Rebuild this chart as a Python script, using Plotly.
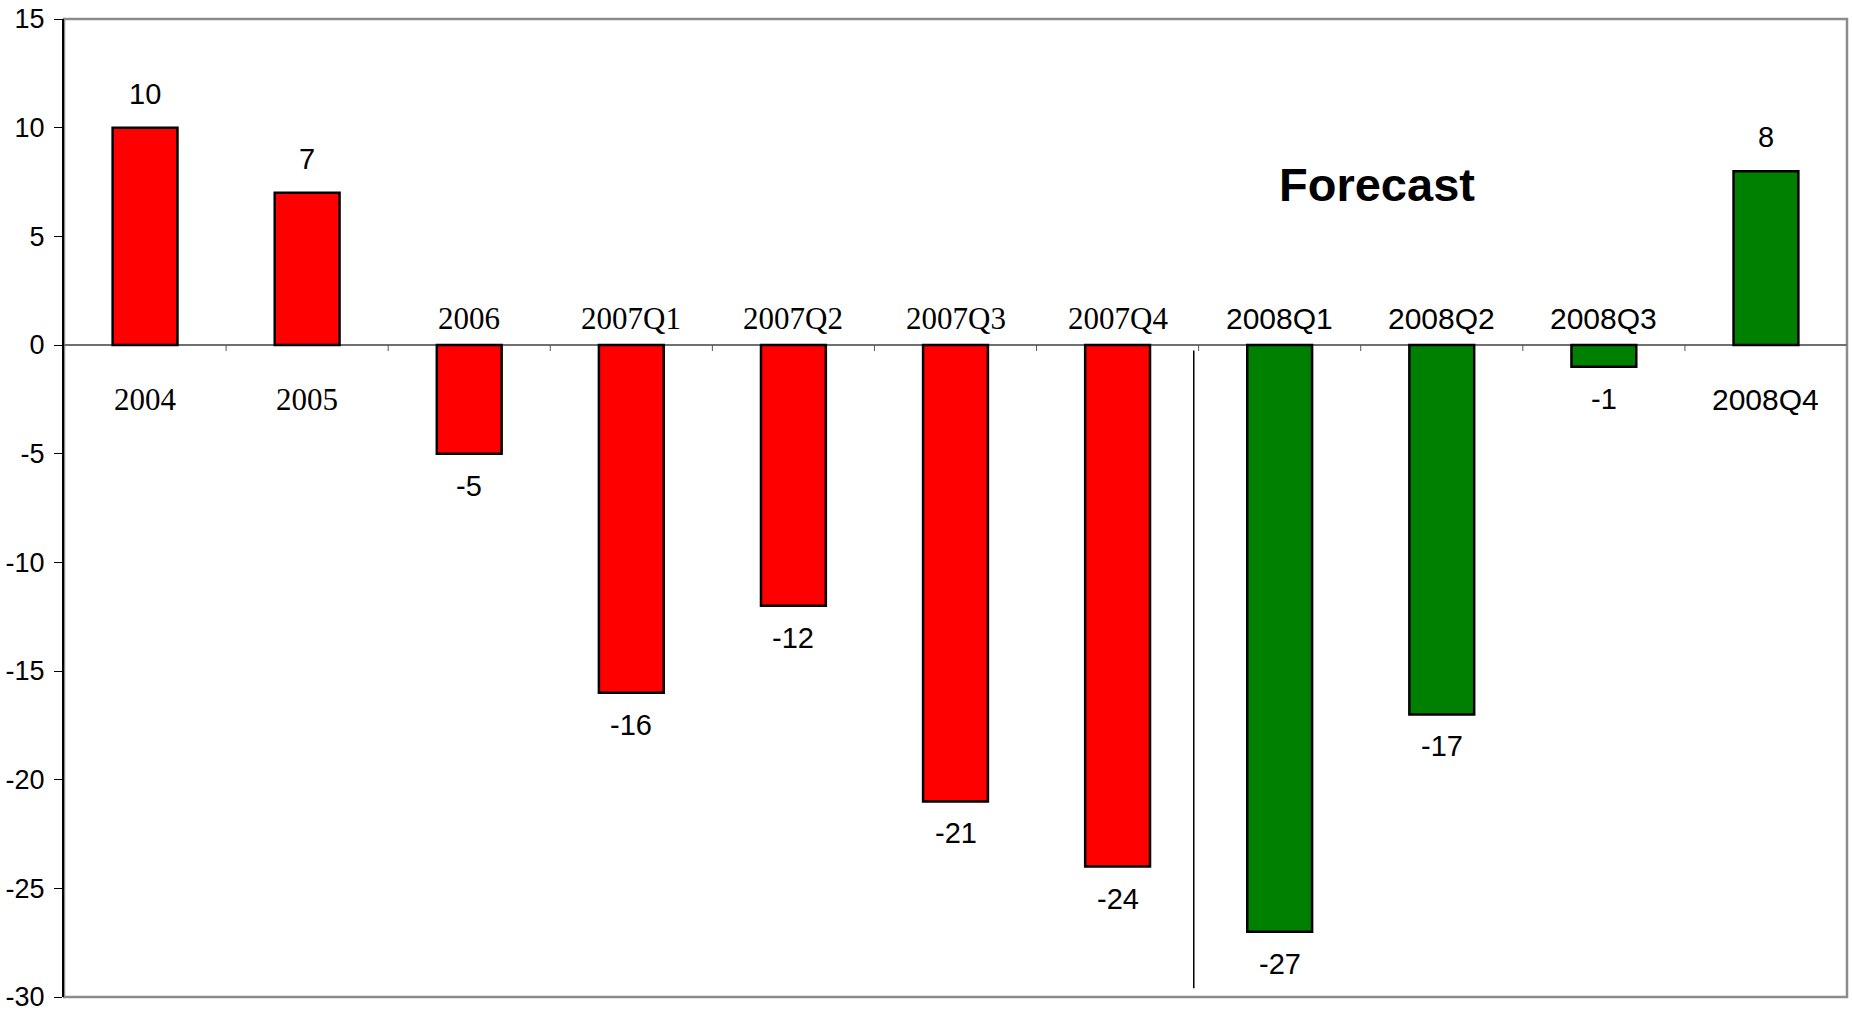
import plotly.graph_objects as go

# Balance by period: annual history, quarterly history and quarterly forecast
periods = ["2004", "2005", "2006", "2007Q1", "2007Q2", "2007Q3", "2007Q4",
           "2008Q1", "2008Q2", "2008Q3", "2008Q4"]
values = [10, 7, -5, -16, -12, -21, -24, -27, -17, -1, 8]
is_forecast = [False, False, False, False, False, False, False,
               True, True, True, True]
y_ticks = [15, 10, 5, 0, -5, -10, -15, -20, -25, -30]

HIST_COLOR = "#ff0000"
FCST_COLOR = "#008000"
NARROW = "Liberation Sans Narrow, Arial Narrow, Liberation Sans, Arial, sans-serif"
SANS = "Liberation Sans, Arial, sans-serif"
SERIF = "Liberation Serif, Times New Roman, serif"

idx = list(range(len(periods)))

fig = go.Figure()
fig.add_trace(go.Bar(
    x=idx,
    y=values,
    width=0.40,
    marker=dict(
        color=[FCST_COLOR if f else HIST_COLOR for f in is_forecast],
        line=dict(color="black", width=2.5),
    ),
    customdata=periods,
    hovertemplate="%{customdata}: %{y}<extra></extra>",
    showlegend=False,
))

annotations = []
for i, p, v, f in zip(idx, periods, values, is_forecast):
    # value label beyond the bar end
    annotations.append(dict(
        x=i, y=v, xref="x", yref="y", text=str(v), showarrow=False,
        yanchor="middle", yshift=34 if v > 0 else -32,
        font=dict(family=NARROW, size=29, color="black"),
    ))
    # period label on the opposite side of the zero line
    annotations.append(dict(
        x=i, y=0, xref="x", yref="y", text=p, showarrow=False,
        yanchor="middle", yshift=-54 if v > 0 else 27,
        font=dict(family=SANS if f else SERIF, size=30 if f else 31,
                  color="black"),
    ))

annotations.append(dict(
    x=7.6, y=7.4, xref="x", yref="y", text="<b>Forecast</b>",
    showarrow=False, font=dict(family=SANS, size=47, color="black"),
))

shapes = []
# outer frame
shapes.append(dict(type="rect", xref="paper", yref="paper",
                   x0=0, x1=1, y0=0, y1=1,
                   line=dict(color="#8c8c8c", width=2.5), layer="below"))
# category boundary ticks on the zero line
for i in idx[:-1]:
    shapes.append(dict(type="line", xref="x", yref="y",
                       x0=i + 0.5, x1=i + 0.5,
                       ysizemode="pixel", yanchor=0, y0=0, y1=-6,
                       line=dict(color="#555555", width=1)))
# separator between history and forecast
FORECAST_SPLIT = 6.47
shapes.append(dict(type="line", xref="x", yref="y",
                   x0=FORECAST_SPLIT, x1=FORECAST_SPLIT, y0=-0.25, y1=-29.6,
                   line=dict(color="black", width=1.5)))

fig.update_layout(
    width=1852, height=1011,
    margin=dict(l=64, r=5, t=19, b=14),
    paper_bgcolor="white", plot_bgcolor="white",
    annotations=annotations,
    shapes=shapes,
    xaxis=dict(
        type="linear", range=[-0.5, len(periods) - 0.5],
        showticklabels=False, ticks="", showgrid=False, zeroline=False,
        showline=False, fixedrange=True, automargin=False,
    ),
    yaxis=dict(
        range=[-30, 15], tickvals=y_ticks,
        ticktext=[str(t) for t in y_ticks],
        ticks="outside", ticklen=8, tickwidth=1, tickcolor="black",
        showline=True, linecolor="black", linewidth=2,
        showgrid=False, zeroline=True, zerolinecolor="#707070",
        zerolinewidth=1.5, ticklabelstandoff=4,
        ticklabeloverflow="allow",
        tickfont=dict(family=NARROW, size=27, color="black"),
        fixedrange=True, automargin=False,
    ),
)

fig.write_html("out.html")
